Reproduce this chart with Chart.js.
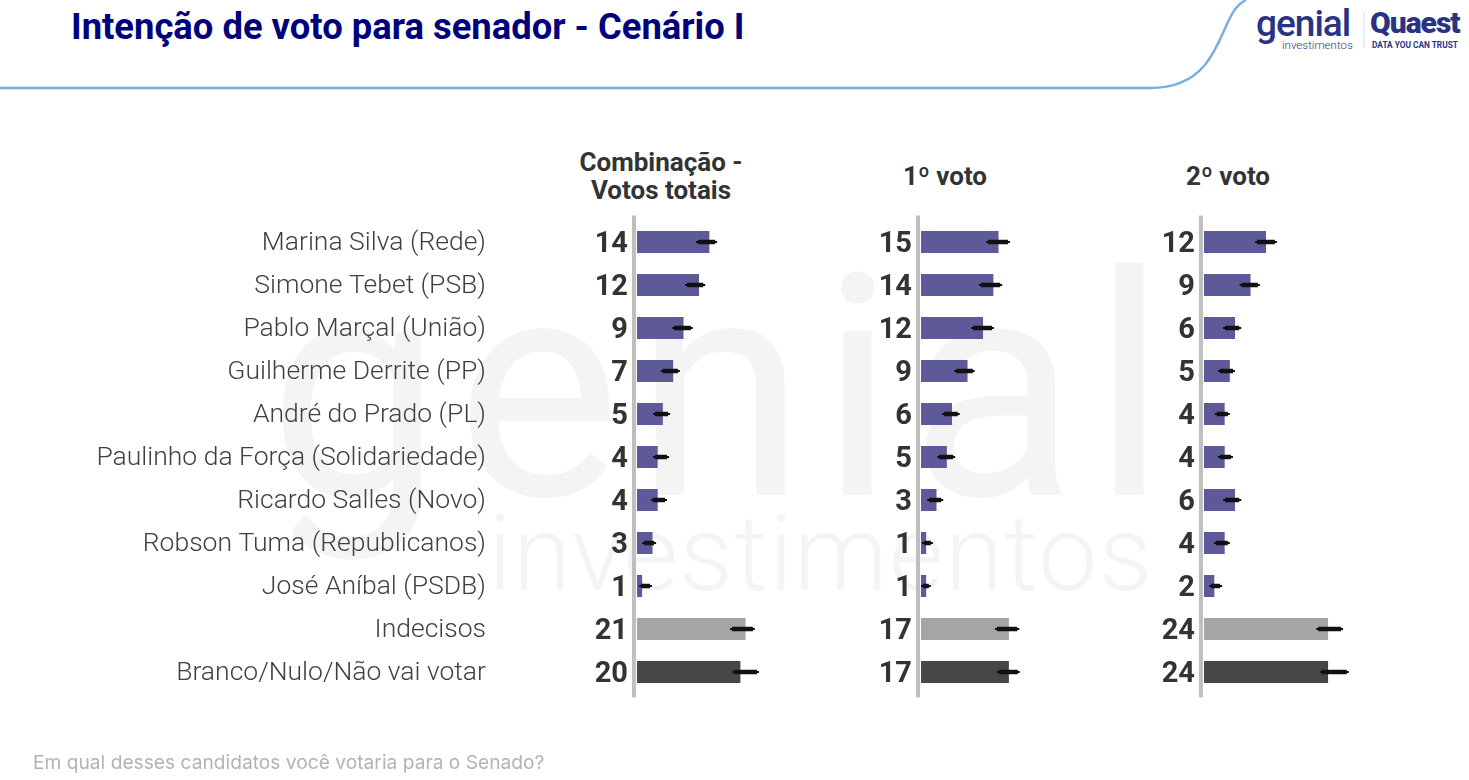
<!DOCTYPE html>
<html>
<head>
<meta charset="utf-8">
<script src="https://cdn.jsdelivr.net/npm/chart.js@4/dist/chart.umd.min.js"></script>
<style>
  html,body{margin:0;padding:0;background:#fff;}
  body{width:1469px;height:780px;position:relative;overflow:hidden;font-family:Roboto,"Noto Sans",sans-serif;}
  .abs{position:absolute;white-space:nowrap;}
  canvas{position:absolute;left:0;top:0;}
  #title{left:71px;top:5px;font-family:Roboto;font-weight:700;font-size:36.4px;color:#00007c;}
  .hdr{font-family:Roboto;font-weight:700;font-size:26px;color:#333;text-align:center;line-height:28px;}
  #foot{left:33px;top:750px;font-family:Inter;font-size:19.2px;color:#b3b3b3;}
  .wm{color:#f4f4f4;font-family:Roboto;}
</style>
</head>
<body>
<svg class="abs" style="left:0;top:0" width="1469" height="100">
  <path d="M0 88 L1150 88 C1175 88 1192 80 1204 66 C1218 50 1224 28 1232 14 C1236 7 1240 3 1246 0" fill="none" stroke="#7aaede" stroke-width="2.5"/>
  <line x1="1364" y1="12" x2="1364" y2="48" stroke="#cfe0f2" stroke-width="1"/>
</svg>
<div class="abs wm" style="left:268px;top:207px;font-size:310px;font-weight:400;letter-spacing:14px;">genial</div>
<div class="abs wm" style="left:488px;top:492px;font-size:106px;font-weight:300;letter-spacing:1px;">investimentos</div>

<div id="title" class="abs">Intenção de voto para senador - Cenário I</div>
<div class="abs" style="left:1256px;top:2px;font-family:Roboto;font-weight:500;font-size:37px;color:#2a3383;letter-spacing:-1px;">genial</div>
<div class="abs" style="left:1282px;top:38px;font-family:Roboto;font-weight:300;font-size:11.5px;color:#2a3383;">investimentos</div>
<div class="abs" style="left:1370px;top:5px;font-family:Roboto;font-weight:900;font-size:30px;color:#2a3383;letter-spacing:-1px;">Quaest</div>
<div class="abs" style="left:1372px;top:40px;font-family:Roboto;font-weight:700;font-size:8.3px;color:#2a3383;">DATA YOU CAN TRUST</div>

<div class="abs hdr" style="left:561px;width:200px;top:148px;">Combinação -<br>Votos totais</div>
<div class="abs hdr" style="left:845px;width:200px;top:162px;">1º voto</div>
<div class="abs hdr" style="left:1128px;width:200px;top:162px;">2º voto</div>

<canvas id="c1" width="1469" height="780"></canvas>
<canvas id="c2" width="1469" height="780"></canvas>
<canvas id="c3" width="1469" height="780"></canvas>

<div id="foot" class="abs">Em qual desses candidatos você votaria para o Senado?</div>

<script>
const categories = ["Marina Silva (Rede)","Simone Tebet (PSB)","Pablo Marçal (União)","Guilherme Derrite (PP)","André do Prado (PL)","Paulinho da Força (Solidariedade)","Ricardo Salles (Novo)","Robson Tuma (Republicanos)","José Aníbal (PSDB)","Indecisos","Branco/Nulo/Não vai votar"];

const combValues  = [14,12,9,7,5,4,4,3,1,21,20];
const voto1Values = [15,14,12,9,6,5,3,1,1,17,17];
const voto2Values = [12,9,6,5,4,4,6,4,2,24,24];

const combLow   = [11.4,9.3,6.8,4.6,3.1,3.1,2.7,1.0,0.4,18.0,18.4];
const combHigh  = [15.5,13.2,10.8,8.3,6.4,6.2,5.8,3.7,2.9,22.8,23.6];
const voto1Low  = [12.6,11.2,9.7,6.4,4.1,3.1,1.2,0.2,0.0,14.3,14.7];
const voto1High = [17.2,15.7,14.1,10.4,7.5,6.6,4.3,2.3,1.9,19.0,19.1];
const voto2Low  = [9.9,6.9,3.7,2.7,2.1,2.7,3.7,1.9,1.0,21.7,22.4];
const voto2High = [14.1,10.8,7.2,6.0,5.0,5.6,7.2,5.0,3.5,26.9,28.0];

const PURPLE = "#5e5a99", LGRAY = "#a5a5a5", DGRAY = "#474747";
const barColors = categories.map((c,i)=> i===9 ? LGRAY : (i===10 ? DGRAY : PURPLE));

const XMAX = 30, PX_PER_UNIT = 5.17, TOP = 220.5, BOTTOM = 693.5;
const LABEL_RIGHT_GAP = 151;

const decorPlugin = {
  id: 'decor',
  beforeDatasetsDraw(chart){
    const ctx = chart.ctx, a = chart.chartArea;
    ctx.save();
    ctx.fillStyle = "#bfbfbf";
    ctx.fillRect(a.left - 5, a.top - 5, 4, (a.bottom - a.top) + 9);
    ctx.restore();
  },
  afterDatasetsDraw(chart, args, opts){
    const ctx = chart.ctx, a = chart.chartArea;
    const meta = chart.getDatasetMeta(0);
    const ds = chart.data.datasets[0];
    const xs = chart.scales.x, ys = chart.scales.y;
    ctx.save();
    if (opts.showLabels) {
      ctx.fillStyle = "#404040";
      ctx.font = "300 26.5px Roboto";
      ctx.textAlign = "right";
      ctx.textBaseline = "middle";
      chart.data.labels.forEach((lab,i)=>{
        ctx.fillText(lab, a.left - LABEL_RIGHT_GAP, ys.getPixelForValue(i) + 1);
      });
    }
    ctx.strokeStyle = "#111";
    ctx.lineCap = "butt";
    meta.data.forEach((bar,i)=>{
      const x1 = xs.getPixelForValue(ds.low[i]);
      const x2 = xs.getPixelForValue(ds.high[i]);
      ctx.lineWidth = 2;
      ctx.beginPath(); ctx.moveTo(x1, bar.y); ctx.lineTo(x2, bar.y); ctx.stroke();
      ctx.lineWidth = 4.5;
      ctx.beginPath(); ctx.moveTo(x1+2, bar.y); ctx.lineTo(x2-2, bar.y); ctx.stroke();
    });
    ctx.fillStyle = "#333333";
    ctx.font = "700 29px Roboto";
    ctx.textAlign = "right";
    ctx.textBaseline = "middle";
    meta.data.forEach((bar,i)=>{
      ctx.fillText(String(ds.data[i]), a.left - 9, bar.y + 2.5);
    });
    ctx.restore();
  }
};

function makeChart(id, values, low, high, left, showLabels){
  const right = 1469 - left - XMAX*PX_PER_UNIT;
  return new Chart(document.getElementById(id), {
    type: 'bar',
    data: {
      labels: categories,
      datasets: [{
        data: values, low: low, high: high,
        backgroundColor: barColors,
        borderWidth: 0,
        barPercentage: 0.51,
        categoryPercentage: 1.0
      }]
    },
    options: {
      indexAxis: 'y',
      responsive: false,
      animation: false,
      events: [],
      layout: { padding: { left: 0, right: right, top: TOP, bottom: 780 - BOTTOM } },
      plugins: { legend: {display:false}, tooltip: {enabled:false}, title:{display:false}, decor: { showLabels: showLabels } },
      scales: {
        x: { display: false, min: 0, max: XMAX },
        y: {
          display: true,
          grid: { display: false, drawTicks: false },
          border: { display: false },
          afterFit(scale){ scale.width = left; },
          ticks: { display: false }
        }
      }
    },
    plugins: [decorPlugin]
  });
}

makeChart('c1', combValues, combLow, combHigh, 637, true);
makeChart('c2', voto1Values, voto1Low, voto1High, 921, false);
makeChart('c3', voto2Values, voto2Low, voto2High, 1204, false);
</script>
</body>
</html>
